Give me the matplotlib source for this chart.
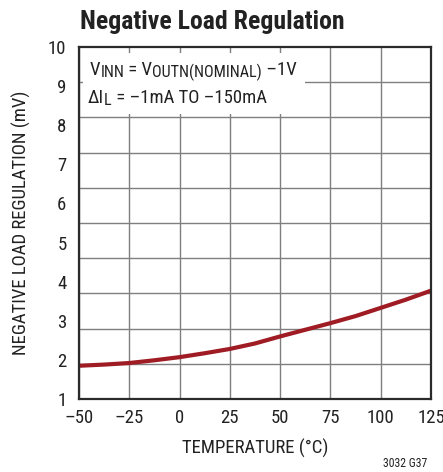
import numpy as np
import matplotlib
matplotlib.use("Agg")
import matplotlib.pyplot as plt
from matplotlib.patches import Rectangle
from matplotlib import font_manager as fm

# ---- data ----
temperature = [-50, -37.5, -25, -12.5, 0, 12.5, 25, 37.5, 50, 62.5, 75, 87.5, 100, 112.5, 125]
regulation_mv = [1.85, 1.88, 1.92, 1.99, 2.07, 2.17, 2.28, 2.42, 2.60, 2.77, 2.94, 3.12, 3.33, 3.54, 3.77]

x_ticks = [-50, -25, 0, 25, 50, 75, 100, 125]
x_tick_labels = ["\u201350", "\u201325", "0", "25", "50", "75", "100", "125"]
y_ticks = [1, 2, 3, 4, 5, 6, 7, 8, 9, 10]
y_tick_labels = [str(v) for v in y_ticks]

title = "Negative Load Regulation"
xlabel = "TEMPERATURE (\u00b0C)"
ylabel = "NEGATIVE LOAD REGULATION (mV)"
note = "3032 G37"

# pick a narrow font if one is installed
names = {f.name for f in fm.fontManager.ttflist}
narrow = None
for cand in ["Liberation Sans Narrow", "Roboto Condensed", "DejaVu Sans Condensed",
             "Open Sans Condensed", "Noto Sans Condensed"]:
    if cand in names:
        narrow = cand
        break
STRETCH = "normal"
if narrow is None:
    cond = [f for f in fm.fontManager.ttflist
            if f.name in ("DejaVu Sans", "Noto Sans", "Open Sans", "Roboto")
            and str(f.stretch) in ("condensed", "semi-condensed", "75", "87.5", "62.5")]
    if cond:
        narrow = cond[0].name
        STRETCH = "condensed"
    else:
        narrow = "Liberation Sans"
FAM = [narrow, "DejaVu Sans"]
plt.rcParams["font.family"] = FAM
plt.rcParams["font.stretch"] = STRETCH

is_narrow = narrow != "Liberation Sans"
K = 1.0 if is_narrow else 0.86  # shrink factor when only a normal-width font exists

W, H = 443, 472
fig = plt.figure(figsize=(W / 100, H / 100), dpi=100)
L, R, B, T = 79, 431, 399, 47
ax = fig.add_axes([L / W, 1 - B / H, (R - L) / W, (B - T) / H])

ax.set_xlim(-50, 125)
ax.set_ylim(1, 10)
ax.set_axisbelow(True)

ax.set_xticks(x_ticks)
ax.set_xticklabels(x_tick_labels)
ax.set_yticks(y_ticks)
ax.set_yticklabels(y_tick_labels)
ax.set_yticks(np.linspace(1, 10, 11), minor=True)
ax.tick_params(axis="both", which="both", length=0, labelsize=13.5 * K, colors="#222222")
ax.tick_params(axis="x", pad=7)
ax.tick_params(axis="y", pad=9)

grid_kw = dict(color="#7f7f7f", linewidth=1.0)
ax.grid(True, which="major", axis="x", **grid_kw)
ax.grid(True, which="minor", axis="y", **grid_kw)

for s in ax.spines.values():
    s.set_linewidth(1.6)
    s.set_color("#2a2a2a")
    s.set_zorder(5)

# white box behind the annotation
ax.add_patch(Rectangle((-48, 8.29), 110.4, 1.56, facecolor="white", edgecolor="none", zorder=1))

ax.plot(temperature, regulation_mv, color="#a01c24", linewidth=3.0, zorder=3, solid_capstyle="butt")

ax.set_xlabel(xlabel, fontsize=13.5 * K, color="#222222", labelpad=9)
ax.set_ylabel(ylabel, fontsize=13.5 * K, color="#222222", labelpad=12)

fig.text(80 / W, 1 - 29 / H, title, fontsize=18.5 * K, fontweight="bold", color="#222222",
         ha="left", va="baseline")
fig.text(427 / W, 1 - 467 / H, note, fontsize=8.5 * K, color="#222222", ha="right", va="baseline")

# annotation with subscripts, drawn piece by piece
renderer = fig.canvas.get_renderer()


def draw_pieces(x0, y_base, pieces, size=13.5 * K, sub_scale=0.86, sub_drop=2.3):
    x = x0
    for txt, is_sub in pieces:
        fs = size * sub_scale if is_sub else size
        y = y_base + (sub_drop if is_sub else 0)
        t = fig.text(x / W, 1 - y / H, txt, fontsize=fs, color="#222222",
                     ha="left", va="baseline", zorder=6)
        x += t.get_window_extent(renderer).width


draw_pieces(90, 75, [("V", False), ("INN", True), (" = V", False),
                     ("OUTN(NOMINAL)", True), (" \u20131V", False)])
draw_pieces(88, 103, [("\u0394I", False), ("L", True), (" = \u20131mA TO \u2013150mA", False)])

fig.savefig("out.png", dpi=100)
